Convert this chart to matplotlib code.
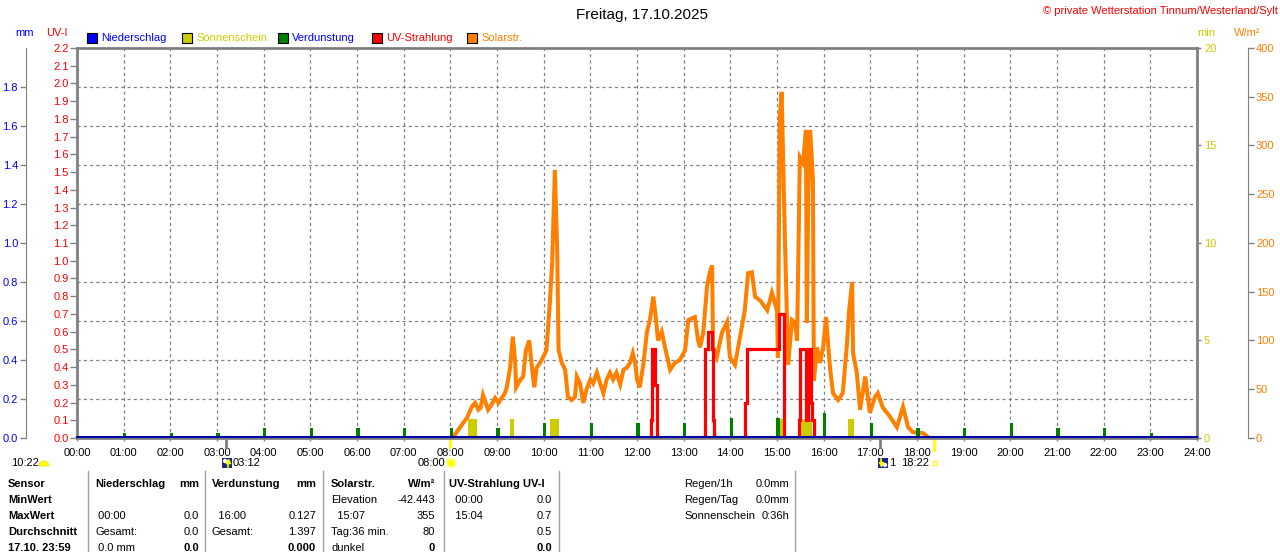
import matplotlib
matplotlib.use("Agg")
import matplotlib.pyplot as plt
import matplotlib.transforms as mtransforms
from matplotlib.patches import Rectangle, Wedge, Circle
from matplotlib.lines import Line2D
import numpy as np

plt.rcParams['font.family'] = ['Liberation Sans', 'DejaVu Sans']
plt.rcParams['font.size'] = 8

# ---------------- data ----------------
hours = list(range(25))
hour_labels = [f"{h:02d}:00" for h in hours]

# Solarstrahlung (W/m²), time in hours
solar_t = [8.00, 8.06, 8.21, 8.36, 8.46, 8.53, 8.60, 8.65, 8.70, 8.76, 8.81, 8.88, 8.96, 9.03,
           9.10, 9.17, 9.21, 9.28, 9.34, 9.39, 9.41, 9.49, 9.56, 9.62, 9.69, 9.75, 9.80, 9.85,
           9.92, 9.99, 10.06, 10.13, 10.18, 10.24, 10.29, 10.32, 10.39, 10.46, 10.52, 10.60,
           10.67, 10.71, 10.78, 10.85, 10.92, 11.00, 11.06, 11.14, 11.21, 11.28, 11.35, 11.42,
           11.49, 11.56, 11.64, 11.71, 11.78, 11.85, 11.91, 11.96, 12.00, 12.06, 12.14, 12.21,
           12.28, 12.35, 12.40, 12.45, 12.53, 12.60, 12.71, 12.81, 12.92, 13.03, 13.10, 13.24,
           13.31, 13.35, 13.42, 13.50, 13.56, 13.61, 13.63, 13.71, 13.82, 13.93, 13.99, 14.10,
           14.21, 14.31, 14.38, 14.46, 14.53, 14.64, 14.79, 14.89, 15.00, 15.02, 15.06, 15.10,
           15.17, 15.24, 15.32, 15.39, 15.43, 15.49, 15.56, 15.62, 15.64, 15.67, 15.71, 15.77,
           15.79, 15.86, 15.92, 15.99, 16.05, 16.14, 16.20, 16.31, 16.41, 16.50, 16.54, 16.61,
           16.63, 16.71, 16.78, 16.89, 16.99, 17.10, 17.16, 17.27, 17.42, 17.57, 17.70, 17.81,
           17.91, 18.13, 18.21, 18.25]
solar_w = [0, 1, 11, 21, 32, 36, 29, 31, 44, 36, 29, 34, 41, 36,
           41, 46, 52, 72, 104, 77, 52, 59, 63, 90, 100, 72, 52, 72,
           77, 83, 90, 137, 178, 275, 193, 90, 77, 70, 42, 39,
           42, 63, 56, 36, 50, 60, 56, 67, 56, 46, 60, 67,
           60, 67, 55, 70, 72, 77, 87, 77, 60, 52, 77, 108,
           122, 145, 125, 100, 109, 93, 70, 77, 80, 90, 121, 124,
           100, 93, 108, 155, 170, 177, 93, 83, 108, 119, 83, 75,
           104, 131, 169, 170, 145, 141, 131, 149, 131, 82, 329, 355,
           203, 75, 121, 118, 100, 288, 282, 316, 118, 250, 316, 265,
           59, 93, 77, 93, 124, 70, 46, 39, 46, 97, 128, 160,
           87, 67, 29, 63, 26, 42, 46, 31, 22, 11, 32, 11,
           6, 5, 2, 0]

# UV-Strahlung (UV-I), step changes
uv_t = [12.31, 12.33, 12.38, 12.43, 13.46, 13.53, 13.60, 13.62, 13.65, 14.31, 14.35,
        15.05, 15.15, 15.47, 15.50, 15.63, 15.66, 15.72, 15.76, 15.79]
uv_v = [0.1, 0.5, 0.3, 0.0, 0.5, 0.6, 0.5, 0.1, 0.0, 0.2, 0.5,
        0.7, 0.0, 0.1, 0.5, 0.1, 0.5, 0.2, 0.1, 0.0]

# Verdunstung (mm) per hour
evap_h = list(range(1, 24))
evap_mm = [0.025, 0.025, 0.025, 0.051, 0.051, 0.051, 0.051, 0.051, 0.051, 0.076, 0.076,
           0.076, 0.076, 0.102, 0.102, 0.127, 0.076, 0.051, 0.051, 0.076, 0.051, 0.051, 0.025]

# Sonnenschein (min)
sun_start = [8.38, 9.27, 10.13, 15.02, 15.50, 16.52]
sun_end = [8.57, 9.36, 10.33, 15.13, 15.74, 16.64]
sun_min = [1, 1, 1, 1, 1, 1]

# Niederschlag (mm)
precip_t = [0, 24]
precip_mm = [0.0, 0.0]

uv_ticks = [round(0.1 * i, 1) for i in range(23)]
mm_ticks = [round(0.2 * i, 1) for i in range(10)]
min_ticks = [0, 5, 10, 15, 20]
w_ticks = list(range(0, 401, 50))

# events below axis
moonrise, moonset = 3.2, 17.2
sunrise, sunset = 8.0, 18.367

title = "Freitag, 17.10.2025"
copyright_txt = "© private Wetterstation Tinnum/Westerland/Sylt"

# colors
C_BLUE = '#0000ff'
C_NAVY = '#0000a0'
C_YEL = '#cccc00'
C_GREEN = '#008000'
C_RED = '#ff0000'
C_ORANGE = '#ff8000'
C_GRAY = '#808080'

# ---------------- figure ----------------
W, H = 1280, 552
fig = plt.figure(figsize=(W / 100, H / 100), dpi=100)
pix = mtransforms.Affine2D().scale(1.0 / W, -1.0 / H).translate(0, 1) + fig.transFigure

L, R, T, B = 77, 1197, 48, 438
rect = [L / W, 1 - B / H, (R - L) / W, (B - T) / H]

base = fig.add_axes(rect)
base.set_xlim(0, 24)
base.set_ylim(0, 2.2)
base.set_xticks(hours)
base.set_xticklabels(hour_labels)
base.set_yticks(uv_ticks)
base.set_yticklabels([f"{v:.1f}" for v in uv_ticks])
base.tick_params(axis='x', direction='out', length=2.5, width=1, color=C_GRAY,
                 labelsize=8, pad=5)
base.tick_params(axis='y', direction='out', length=5, width=1, color=C_GRAY,
                 labelcolor=C_RED, labelsize=8, pad=1)
for s in base.spines.values():
    s.set_color(C_GRAY)
    s.set_linewidth(2)
# grid
for h in hours[1:-1]:
    base.axvline(h, color=C_GRAY, lw=0.9, ls=(0, (2.5, 2.5)), zorder=0)
base.set_yticks([m * 2.2 / 2.0 for m in mm_ticks[1:]], minor=True)
base.tick_params(axis='y', which='minor', length=0)
base.grid(axis='y', which='minor', color=C_GRAY, lw=0.9, ls=(0, (2.5, 2.5)))

# Sonnenschein (min)
ax_min = base.twinx()
ax_min.set_ylim(0, 20)
ax_min.set_yticks(min_ticks)
ax_min.tick_params(axis='y', direction='out', length=3, width=1, color=C_GRAY,
                   labelcolor=C_YEL, labelsize=8, pad=2)
for s in ax_min.spines.values():
    s.set_visible(False)
ax_min.bar(sun_start, sun_min, width=np.array(sun_end) - np.array(sun_start),
           align='edge', color=C_YEL, lw=0)

# Solarstrahlung
ax_w = base.twinx()
ax_w.set_ylim(0, 400)
ax_w.set_yticks(w_ticks)
ax_w.tick_params(axis='y', direction='out', length=4, width=1, color=C_GRAY,
                 labelcolor=C_ORANGE, labelsize=8, pad=1.5)
for k, s in ax_w.spines.items():
    s.set_visible(k == 'right')
ax_w.spines['right'].set_position(('outward', 37))
ax_w.spines['right'].set_color(C_GRAY)
ax_w.plot(solar_t, solar_w, color=C_ORANGE, lw=2.9, solid_joinstyle='miter')

# UV
ax_uv = base.twinx()
ax_uv.set_ylim(0, 2.2)
ax_uv.set_yticks([])
for s in ax_uv.spines.values():
    s.set_visible(False)
xs, ys = [], []
prev = 0.0
for t, v in zip(uv_t, uv_v):
    xs += [t, t]
    ys += [prev, v]
    if v == 0:
        xs.append(np.nan)
        ys.append(np.nan)
    prev = v
ax_uv.plot(xs, ys, color=C_RED, lw=2.3, solid_joinstyle='miter')

# Verdunstung + Niederschlag (mm)
ax_mm = base.twinx()
ax_mm.set_ylim(0, 2.0)
ax_mm.yaxis.set_ticks_position('left')
ax_mm.set_yticks(mm_ticks)
ax_mm.set_yticklabels([f"{v:.1f}" for v in mm_ticks])
ax_mm.tick_params(axis='y', direction='out', length=4, width=1, color=C_GRAY,
                  labelcolor=C_BLUE, labelsize=8, pad=1.5)
for k, s in ax_mm.spines.items():
    s.set_visible(k == 'left')
ax_mm.spines['left'].set_position(('outward', 37))
ax_mm.spines['left'].set_color(C_GRAY)
ax_mm.bar(np.array(evap_h) - 0.012, evap_mm, width=0.07, align='edge', color=C_GREEN, lw=0)
up1 = mtransforms.offset_copy(ax_mm.transData, fig=fig, x=0, y=1, units='dots')
ax_mm.plot(precip_t, precip_mm, color=C_NAVY, lw=1.5, transform=up1, clip_on=False)

# event ticks below the axis
blend = mtransforms.blended_transform_factory(base.transData, base.transAxes)
for t, c, ln in [(moonrise, C_GRAY, 9), (moonset, C_GRAY, 9), (sunrise, '#ffff00', 9), (sunset, '#ffff00', 12)]:
    base.plot([t, t], [0, -ln / (B - T)], color=c, lw=2, transform=blend, clip_on=False)

# ---------------- texts ----------------
def txt(x, y, s, **kw):
    kw.setdefault('va', 'center')
    kw.setdefault('fontsize', 8)
    fig.text(x, y, s, transform=pix, **kw)

txt(642, 15, title, ha='center', fontsize=11)
txt(1278, 11, copyright_txt, ha='right', color=C_RED)
txt(15, 33, "mm", color=C_BLUE)
txt(46, 33, "UV-I", color=C_RED)
txt(1197, 33, "min", color=C_YEL)
txt(1234, 33, "W/m²", color=C_ORANGE)

legend_items = [("Niederschlag", C_BLUE, C_BLUE, 87), ("Sonnenschein", C_YEL, C_YEL, 182),
                ("Verdunstung", C_GREEN, C_BLUE, 278), ("UV-Strahlung", C_RED, C_RED, 372),
                ("Solarstr.", C_ORANGE, C_ORANGE, 467)]
for name, fc, tc, x0 in legend_items:
    fig.add_artist(Rectangle((x0, 33), 10, 10, transform=pix, facecolor=fc,
                             edgecolor='black', lw=0.8))
    txt(x0 + 14, 38, name, color=tc)

# icons / times below axis
txt(11, 463, "10:22")
fig.add_artist(Wedge((44, 466), 5, 180, 360, transform=pix, facecolor='#ffff00', edgecolor='#e0e000', lw=0.5))
fig.add_artist(Rectangle((222, 458), 10, 10, transform=pix, facecolor='#1c2a80', edgecolor='none'))
fig.add_artist(Circle((225, 461), 2.2, transform=pix, facecolor='white', edgecolor='none'))
fig.add_artist(Line2D([228, 228], [467, 461], transform=pix, color='#ffff00', lw=1.2))
fig.add_artist(Line2D([228], [461], transform=pix, marker='^', ms=3, color='#ffff00'))
txt(233, 463, "03:12")
txt(418, 463, "08:00")
fig.add_artist(Circle((451, 463), 5.5, transform=pix, facecolor='#ffffa0', edgecolor='none'))
fig.add_artist(Circle((451, 463), 3.5, transform=pix, facecolor='#ffff00', edgecolor='none'))
fig.add_artist(Rectangle((878, 458), 10, 10, transform=pix, facecolor='#1c2a80', edgecolor='none'))
fig.add_artist(Circle((885, 465), 2.2, transform=pix, facecolor='white', edgecolor='none'))
fig.add_artist(Line2D([881, 881], [459, 464], transform=pix, color='#ffff00', lw=1.2))
fig.add_artist(Line2D([881], [464], transform=pix, marker='v', ms=3, color='#ffff00'))
txt(889, 463, "1")
txt(901, 463, "18:22")
fig.add_artist(Rectangle((933, 461), 4, 4, transform=pix, facecolor='none', edgecolor='#ffff00', lw=0.8))

# ---------------- table ----------------
for x in [88, 205, 323, 444, 559, 795]:
    fig.add_artist(Line2D([x, x], [471, 552], transform=pix, color='#a0a0a0', lw=1))

rows_y = [484, 500, 516, 532, 548]
row_heads = ["Sensor", "MinWert", "MaxWert", "Durchschnitt", "17.10. 23:59"]
for y, s in zip(rows_y, row_heads):
    txt(8, y, s, fontweight='bold')

# (x_left, x_right, [(row, left text, right text, bold_left, bold_right)])
table_cols = [
    (95, 199, [(0, "Niederschlag", "mm", True, True), (2, " 00:00", "0.0", False, False),
               (3, "Gesamt:", "0.0", False, False), (4, " 0.0 mm", "0.0", False, True)]),
    (212, 316, [(0, "Verdunstung", "mm", True, True), (2, "  16:00", "0.127", False, False),
                (3, "Gesamt:", "1.397", False, False), (4, "", "0.000", False, True)]),
    (331, 435, [(0, "Solarstr.", "W/m²", True, True), (1, "Elevation", "-42.443", False, False),
                (2, "  15:07", "355", False, False), (3, "Tag:36 min.", "80", False, False),
                (4, "dunkel", "0", False, True)]),
    (449, 552, [(0, "UV-Strahlung UV-I", "", True, False), (1, "  00:00", "0.0", False, False),
                (2, "  15:04", "0.7", False, False), (3, "", "0.5", False, False),
                (4, "", "0.0", False, True)]),
    (684, 789, [(0, "Regen/1h", "0.0mm", False, False), (1, "Regen/Tag", "0.0mm", False, False),
                (2, "Sonnenschein", "0:36h", False, False)]),
]
for xl, xr, cells in table_cols:
    for r, lt, rt, bl, br in cells:
        if lt:
            txt(xl, rows_y[r], lt, fontweight='bold' if bl else 'normal')
        if rt:
            txt(xr, rows_y[r], rt, ha='right', fontweight='bold' if br else 'normal')

fig.savefig("out.png", dpi=100)
